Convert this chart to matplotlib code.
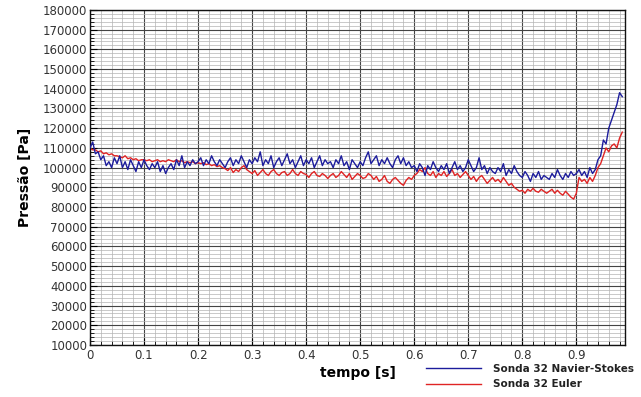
import numpy as np
import matplotlib
matplotlib.use("Agg")
import matplotlib.pyplot as plt
from matplotlib.ticker import MultipleLocator, FuncFormatter

# sample grid of the probe signals (s)
T_STEP = 0.005
N_SAMPLES = 198

# Sonda 32, Navier-Stokes solution (Pa)
p_navier = [
    110000, 113000, 107000, 108000, 104000, 106000, 101000, 103000, 100000, 105000,
    102000, 106000, 100000, 103000, 99000, 104000, 101000, 98000, 103000, 100000,
    104000, 101000, 99000, 102000, 100000, 103000, 98000, 101000, 97000, 100000,
    102000, 99000, 104000, 101000, 106000, 100000, 103000, 101000, 104000, 102000,
    103000, 105000, 101000, 104000, 102000, 106000, 103000, 101000, 104000, 102000,
    100000, 103000, 105000, 101000, 104000, 102000, 106000, 103000, 100000, 104000,
    102000, 105000, 103000, 108000, 101000, 104000, 102000, 106000, 100000, 103000,
    105000, 101000, 104000, 107000, 102000, 104000, 100000, 103000, 106000, 101000,
    104000, 102000, 105000, 100000, 103000, 106000, 101000, 104000, 102000, 103000,
    100000, 104000, 102000, 106000, 101000, 103000, 99000, 104000, 102000, 100000,
    103000, 101000, 105000, 108000, 102000, 104000, 106000, 101000, 104000, 102000,
    105000, 102000, 100000, 104000, 106000, 102000, 105000, 101000, 103000, 100000,
    101000, 98000, 102000, 100000, 96000, 101000, 99000, 103000, 100000, 98000,
    101000, 99000, 102000, 97000, 100000, 103000, 99000, 101000, 98000, 100000,
    104000, 101000, 98000, 100000, 105000, 99000, 101000, 97000, 100000, 98000,
    97000, 100000, 98000, 102000, 96000, 99000, 97000, 101000, 98000, 96000,
    95000, 98000, 96000, 93000, 97000, 95000, 98000, 94000, 96000, 95000,
    94000, 97000, 95000, 99000, 96000, 94000, 97000, 95000, 98000, 96000,
    97000, 99000, 96000, 98000, 95000, 100000, 97000, 99000, 104000, 106000,
    114000, 112000, 120000, 124000, 128000, 132000, 138000, 136000,
]

# Sonda 32, Euler solution (Pa)
p_euler = [
    110000, 109000, 109000, 108000, 108500, 107000, 107500, 106500, 107000, 106000,
    106000, 105500, 105000, 106000, 104500, 105000, 104000, 104500, 103500, 104000,
    104000, 103500, 104000, 103000, 103500, 104000, 103000, 103500, 103000, 104000,
    103500, 103000, 104000, 103000, 103500, 102500, 103000, 102500, 103000, 102000,
    102500, 102000, 102500, 101500, 102000, 101000, 101500, 100500, 101000, 100000,
    99500, 98500, 100000, 97500, 99000, 98000, 100000, 101000, 99000, 98000,
    97000, 98500, 96000, 97500, 99000, 97000, 96000, 98000, 99000, 97000,
    96000, 97500, 98000, 96000, 97000, 99000, 97000, 96000, 98000, 97000,
    96500, 95000, 97000, 98000, 96000, 95500, 97000, 96000, 94500, 96000,
    97000, 95000, 96000, 98000, 96500, 95000, 97000, 94000, 95500, 97000,
    96000, 94500, 95000, 97000, 96000, 94000, 95500, 93000, 94000, 96000,
    93000, 92000, 94000, 95000, 93500, 92000, 91000, 93500, 95000, 94000,
    96000, 97000, 99000, 98000, 100000, 97000, 96000, 98000, 95000, 97000,
    96000, 98000, 95500, 97000, 99000, 96000, 97000, 95000, 96500, 98000,
    96000, 94000, 95500, 93000, 95000, 96000, 94000, 92000, 93500, 95000,
    93000, 94000, 92500, 95000, 93000, 91000, 92000, 90000, 89000, 88000,
    88500, 87000, 89000, 88000, 89500, 88000, 87500, 89000, 88000, 87000,
    88000, 89000, 87000, 88500, 87000, 86000, 88000, 86500, 85000, 84000,
    87000, 95000, 93000, 94000, 92000, 95000, 93000, 96000, 100000, 102000,
    106000, 110000, 108000, 111000, 112000, 110000, 115000, 118000,
]

t = np.arange(N_SAMPLES) * T_STEP

fig = plt.figure(figsize=(6.41, 3.97), dpi=100)
ax = fig.add_axes([0.1404, 0.131, 0.8346, 0.844])

ax.plot(t, p_navier, color="#1c1c9c", lw=1.0, label="Sonda 32 Navier-Stokes", zorder=3)
ax.plot(t, p_euler, color="#e02424", lw=1.0, label="Sonda 32 Euler", zorder=2)

ax.set_xlim(0, 0.99)
ax.set_ylim(10000, 180000)

ax.xaxis.set_major_locator(MultipleLocator(0.1))
ax.xaxis.set_minor_locator(MultipleLocator(0.02))
ax.yaxis.set_major_locator(MultipleLocator(10000))
ax.yaxis.set_minor_locator(MultipleLocator(2000))
ax.xaxis.set_major_formatter(FuncFormatter(lambda v, p: "0" if v == 0 else f"{v:g}"))

# dark major grid, lighter fine grid
ax.grid(which="major", color="#444444", lw=0.8)
ax.grid(which="minor", color="#b4b4b4", lw=0.5)
ax.set_axisbelow(True)

ax.tick_params(which="both", direction="in", top=False, right=False,
               labelsize=8.5, labelcolor="#333333")
ax.tick_params(axis="x", pad=3)
ax.tick_params(axis="y", pad=2)
ax.tick_params(which="major", length=5)
ax.tick_params(which="minor", length=3)
for s in ax.spines.values():
    s.set_color("#111111")
    s.set_linewidth(1.0)

ax.set_xlabel("tempo [s]", fontsize=10, fontweight="bold", labelpad=3)
ax.set_ylabel("Pressão [Pa]", fontsize=10, fontweight="bold", labelpad=8)

leg = fig.legend(loc="upper left", bbox_to_anchor=(0.664, 0.083), frameon=False,
                 fontsize=7.5, handlelength=5.3, handletextpad=1.2,
                 labelspacing=0.5, borderpad=0.0, borderaxespad=0.0)
for txt in leg.get_texts():
    txt.set_fontweight("bold")
    txt.set_color("#222222")

fig.savefig("out.png", dpi=100)
